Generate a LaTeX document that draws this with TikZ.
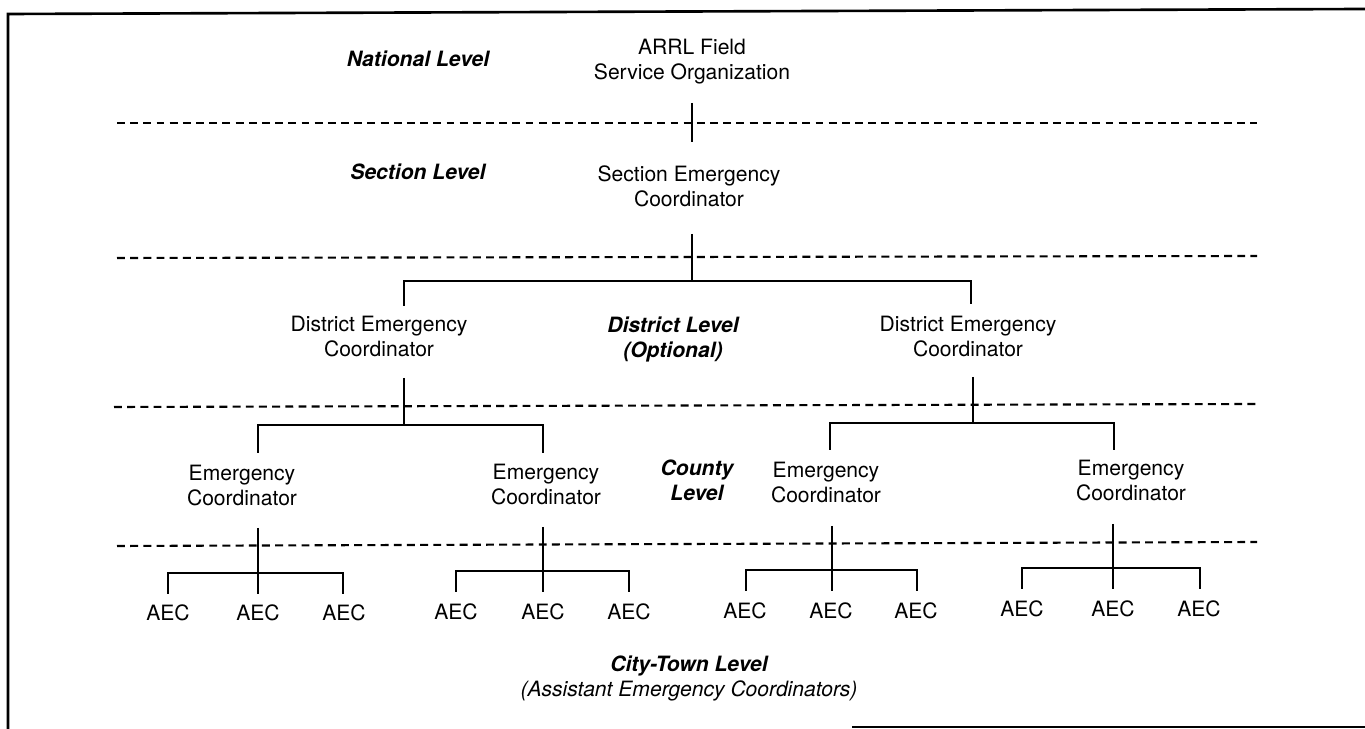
\documentclass[tikz,border=0pt]{standalone}
\usepackage{fontspec}
\setmainfont{TeX Gyre Heros}

\begin{document}
\begin{tikzpicture}[x=0.2mm, y=-0.2mm,
		every node/.style={font=\fontsize{12}{14.5}\selectfont, align=center, anchor=base, inner sep=0pt},
		level/.style={font=\fontsize{12}{14.5}\selectfont\bfseries\itshape},
		link/.style={line width=1.4pt},
		levelsep/.style={line width=1.2pt, dash pattern=on 4.5pt off 3pt},
		frame/.style={line width=1.5pt}]
		\useasboundingbox (0,0) rectangle (1365,729);

		% frame (open on the right)
		\draw[frame] (8,729) -- (8,14) -- (1365,9);
		\draw[frame] (852,727) -- (1365,727);

		% level separators
		\draw[levelsep] (117,123) -- (1257,123);
		\draw[levelsep] (117,258) -- (1257,256);
		\draw[levelsep] (114,407) -- (1257,404);
		\draw[levelsep] (117,546) -- (1257,542);

		% level names (two-line nodes sit on their last baseline)
		\node[level] (natlvl) at (418,67) {National Level};
		\node[level] (seclvl) at (418,180) {Section Level};
		\node[level] (distlvl) at (673,358) {District Level\\(Optional)};
		\node[level] (cntylvl) at (697,501) {County\\Level};
		\node[level] (citylvl) at (689,697) {City-Town Level\\{\mdseries (Assistant Emergency Coordinators)}};

		% positions
		\node (arrl) at (692,80) {ARRL Field\\Service Organization};
		\node (sec) at (689,207) {Section Emergency\\Coordinator};
		\node (dec1) at (379,357) {District Emergency\\Coordinator};
		\node (dec2) at (968,357) {District Emergency\\Coordinator};
		\node (ec1) at (242,506) {Emergency\\Coordinator};
		\node (ec2) at (546,505) {Emergency\\Coordinator};
		\node (ec3) at (826,503) {Emergency\\Coordinator};
		\node (ec4) at (1131,501) {Emergency\\Coordinator};

		\node (aec11) at (168,621) {AEC};
		\node (aec12) at (258,621) {AEC};
		\node (aec13) at (344,621) {AEC};
		\node (aec21) at (456,620) {AEC};
		\node (aec22) at (543,620) {AEC};
		\node (aec23) at (629,620) {AEC};
		\node (aec31) at (745,619) {AEC};
		\node (aec32) at (831,619) {AEC};
		\node (aec33) at (916,619) {AEC};
		\node (aec41) at (1022,617) {AEC};
		\node (aec42) at (1113,617) {AEC};
		\node (aec43) at (1199,617) {AEC};

		% line ends of the tree
		\coordinate (arrl-out) at (692,103);
		\coordinate (sec-in) at (692,142);
		\coordinate (sec-out) at (692,234);
		\coordinate (sec-fork) at (692,281);
		\coordinate (dec1-in) at (404,306);
		\coordinate (dec2-in) at (971,304);
		\coordinate (dec1-out) at (404,378);
		\coordinate (dec1-fork) at (404,425);
		\coordinate (dec2-out) at (973,377);
		\coordinate (dec2-fork) at (973,423);
		\coordinate (ec1-in) at (258,453);
		\coordinate (ec2-in) at (543,453);
		\coordinate (ec3-in) at (830,450);
		\coordinate (ec4-in) at (1114,450);
		\coordinate (ec1-out) at (258,528);
		\coordinate (ec1-fork) at (258,573);
		\coordinate (ec2-out) at (543,527);
		\coordinate (ec2-fork) at (543,571);
		\coordinate (ec3-out) at (832,526);
		\coordinate (ec3-fork) at (832,570);
		\coordinate (ec4-out) at (1113,524);
		\coordinate (ec4-fork) at (1113,568);
		\coordinate (aec11-in) at (168,594);
		\coordinate (aec12-in) at (258,594);
		\coordinate (aec13-in) at (343,594);
		\coordinate (aec21-in) at (456,592);
		\coordinate (aec22-in) at (543,592);
		\coordinate (aec23-in) at (629,592);
		\coordinate (aec31-in) at (746,591);
		\coordinate (aec32-in) at (832,591);
		\coordinate (aec33-in) at (917,591);
		\coordinate (aec41-in) at (1022,589);
		\coordinate (aec42-in) at (1113,589);
		\coordinate (aec43-in) at (1200,589);

		% national -> section -> district
		\draw[link] (arrl-out) -- (sec-in);
		\draw[link] (sec-out) -- (sec-fork);
		\draw[link] (dec1-in) |- (sec-fork) -| (dec2-in);

		% district -> county
		\draw[link] (dec1-out) -- (dec1-fork);
		\draw[link] (ec1-in) |- (dec1-fork) -| (ec2-in);
		\draw[link] (dec2-out) -- (dec2-fork);
		\draw[link] (ec3-in) |- (dec2-fork) -| (ec4-in);

		% county -> city/town
		\draw[link] (ec1-out) -- (aec12-in);
		\draw[link] (aec11-in) |- (ec1-fork) -| (aec13-in);
		\draw[link] (ec2-out) -- (aec22-in);
		\draw[link] (aec21-in) |- (ec2-fork) -| (aec23-in);
		\draw[link] (ec3-out) -- (aec32-in);
		\draw[link] (aec31-in) |- (ec3-fork) -| (aec33-in);
		\draw[link] (ec4-out) -- (aec42-in);
		\draw[link] (aec41-in) |- (ec4-fork) -| (aec43-in);
	\end{tikzpicture}
\end{document}
